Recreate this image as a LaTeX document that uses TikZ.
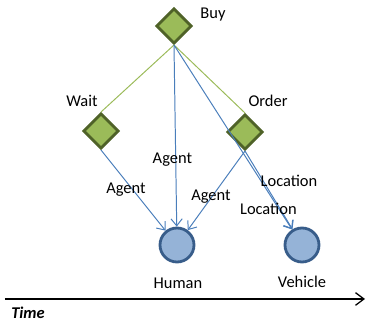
\documentclass[tikz,border=0pt]{standalone}
\usepackage{fontspec}
\setmainfont{Carlito}
\usetikzlibrary{shapes.geometric,arrows.meta}

\begin{document}
\begin{tikzpicture}[font=\fontsize{11.7}{14}\selectfont,
  mydiamond/.style={diamond,draw=leaf,fill=pea,line width=2pt,minimum size=0.88cm,inner sep=0pt},
  mycircle/.style={circle,draw=denim,fill=sky,line width=2pt,minimum size=0.85cm,inner sep=0pt},
  mylink/.style={draw=pea,line width=0.7pt},
  myarrow/.style={draw=wire,line width=0.7pt,-{Straight Barb[length=5pt,width=8pt]}}]
\definecolor{pea}{HTML}{9BBB59}
\definecolor{leaf}{HTML}{4F6228}
\definecolor{sky}{HTML}{95B3D7}
\definecolor{denim}{HTML}{385D8A}
\definecolor{wire}{HTML}{4A7EBB}
\useasboundingbox (0,0) rectangle (9.2,8.05);
% events and participants
\node [mydiamond] (buy) at (4.35,7.4) {};
\node [mydiamond] (wait) at (2.525,4.775) {};
\node [mydiamond] (order) at (6.125,4.75) {};
\node [mycircle] (human) at (4.425,1.925) {};
\node [mycircle] (vehicle) at (7.55,1.925) {};
\node (buytext) at (5.325,7.675) {Buy};
\node (waittext) at (2.05,5.525) {Wait};
\node (ordertext) at (6.7,5.525) {Order};
\node (humantext) at (4.45,0.975) {Human};
\node (vehicletext) at (7.55,1.0) {Vehicle};
% sub events
\draw [mylink] (buy.south) -- (wait.north);
\draw [mylink] (buy.south) -- (order.north);
% roles
\draw [myarrow] (buy.south) -- (human);
\draw [myarrow] (buy.south) -- (vehicle);
\draw [myarrow] (wait.south) -- (human);
\draw [myarrow] (order.south) -- (human);
\draw [myarrow] (order.south) -- (vehicle);
\foreach \role/\x/\y/\id in {Agent/3.15/3.3/a,Agent/4.31/4.05/b,Agent/5.275/3.125/c,Location/7.225/3.525/d,Location/6.71/2.825/e}
  { \node (role\id) at (\x,\y) {\role};}
% time axis
\coordinate (tstart) at (0.125,0.575);
\coordinate (tend) at (9.125,0.575);
\draw [line width=0.9pt,-{Straight Barb[length=6pt,width=9pt]}] (tstart) -- (tend);
\node (timetext) at (0.7,0.225) {\textbf{\textit{Time}}};
\end{tikzpicture}
\end{document}
